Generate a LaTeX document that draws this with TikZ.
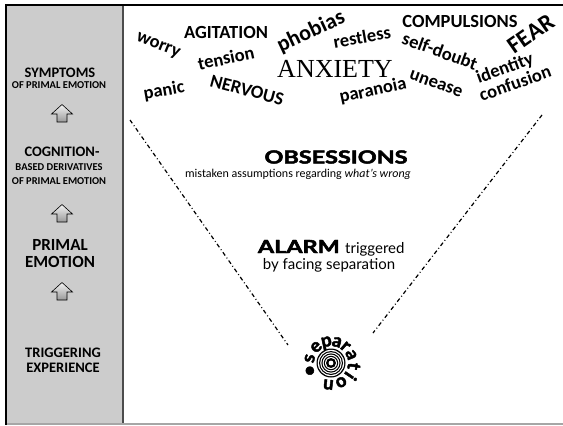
\documentclass[tikz,border=0pt]{standalone}
\usepackage{fontspec}
\setmainfont{Carlito}
\newfontfamily\gillfont{Lato}
\newfontfamily\gillheavy{Lato}[FakeBold=2.5]
\newfontfamily\romanfont{Liberation Serif}
\begin{document}
\begin{tikzpicture}[x=1pt,y=-1pt,
  word/.style={font=\fontsize{18.5}{18}\selectfont\bfseries, inner sep=0pt, anchor=center},
  paneltitle/.style={font=\fontsize{14.5}{15}\selectfont\bfseries, inner sep=0pt, align=center},
  panelsub/.style={font=\fontsize{10.5}{14}\selectfont\bfseries, inner sep=0pt, align=center},
  funnel/.style={line width=1.2pt, dash pattern=on 4pt off 2.6pt on 0.9pt off 2.6pt},
  ring/.style={fill=black},
  hole/.style={fill=white},
  sepletter/.style={font=\gillheavy\fontsize{18.5}{18}\selectfont\bfseries, inner sep=0pt, anchor=base},
  uparrow/.pic={
    \draw[line width=0.6pt, top color=gray!10, bottom color=gray!80]
      (0,-9.5) -- (10.5,0) -- (5,0) -- (5,8) -- (-5,8) -- (-5,0) -- (-10.5,0) -- cycle;
  }
]
\useasboundingbox (0,0) rectangle (563,426);
\fill[white] (0,0) rectangle (563,426);

% side panel and frame
\fill[gray!40] (6,5) rectangle (123,424);
\draw[gray!60!black, line width=1.8pt] (123,5) -- (123,424);
\draw[gray!70, line width=1.4pt] (6,424) -- (563,424);
\draw[black, line width=2pt] (6,424.5) -- (6,4.5) -- (563,4.5);

% side panel labels, bottom stage last
\node[paneltitle] (symp) at (60,73) {SYMPTOMS};
\node[panelsub] (symps) at (59,85) {OF PRIMAL EMOTION};
\pic at (62,114) {uparrow};
\node[paneltitle] (cogn) at (62,152) {COGNITION-};
\node[panelsub] (cogns) at (59,174) {BASED DERIVATIVES\\OF PRIMAL EMOTION};
\pic at (62,214) {uparrow};
\node[paneltitle, font=\fontsize{17}{17}\selectfont\bfseries] (prim) at (60,253.5) {PRIMAL\\EMOTION};
\pic at (62,292) {uparrow};
\node[paneltitle] (trig) at (63,360.5) {TRIGGERING\\EXPERIENCE};

% symptom words
\node[word, rotate=-22] (worry) at (158,46) {worry};
\node[word] (agit) at (226,32) {AGITATION};
\node[word, font=\fontsize{22}{22}\selectfont\bfseries, rotate=25] (phob) at (311,32) {phobias};
\node[word, rotate=12] (tens) at (226,58) {tension};
\node[word, rotate=10] (panic) at (164,91) {panic};
\node[word, rotate=-15] (nerv) at (247,90) {NERVOUS};
\node[word, font=\romanfont\fontsize{26}{26}\selectfont] (anx) at (335,69) {ANXIETY};
\node[word, rotate=10] (rest) at (362,37) {restless};
\node[word] (comp) at (460,21) {COMPULSIONS};
\node[word, rotate=-20] (self) at (440,51) {self-doubt};
\node[word, font=\fontsize{24}{24}\selectfont\bfseries, rotate=35] (fear) at (531,34) {FEAR};
\node[word, rotate=20] (ident) at (505,69) {identity};
\node[word, rotate=20] (conf) at (515,83) {confusion};
\node[word, rotate=-20] (unease) at (436,84) {unease};
\node[word, rotate=12] (para) at (373,91) {paranoia};

% funnel
\coordinate (ltop) at (130,120);
\coordinate (lbot) at (288,345);
\coordinate (rtop) at (542,115);
\coordinate (rbot) at (373,333);
\draw[funnel] (ltop) -- (lbot);
\draw[funnel] (rtop) -- (rbot);

% stage labels
\node[inner sep=0pt, xscale=1.3, font=\gillheavy\fontsize{18}{18}\selectfont\bfseries] (obs) at (336,157) {OBSESSIONS};
\node[inner sep=0pt, font=\fontsize{12}{12}\selectfont] (obss) at (298,174) {mistaken assumptions regarding \textit{what’s wrong}};
\node[inner sep=0pt, anchor=base east, xscale=1.3, font=\gillheavy\fontsize{18}{18}\selectfont\bfseries] (alarm) at (340,253) {ALARM};
\node[inner sep=0pt, anchor=base west, font=\gillfont\fontsize{15}{15}\selectfont] (trg) at (345,253) {triggered};
\node[inner sep=0pt, anchor=base, font=\gillfont\fontsize{15}{15}\selectfont] (bysep) at (329,269) {by facing separation};

% separation target
\coordinate (sep) at (331,363);
\fill[ring] (sep) circle (14.5);
\fill[hole] (sep) circle (13.2);
\fill[ring] (sep) circle (12);
\fill[hole] (sep) circle (10.8);
\fill[ring] (sep) circle (9.6);
\fill[hole] (sep) circle (8.4);
\fill[ring] (sep) circle (7.2);
\fill[hole] (sep) circle (6);
\fill[ring] (sep) circle (5);
\fill[hole] (sep) circle (2.4);
\foreach \ch/\a in {s/168, e/133, p/102, a/74, r/49, a/22, t/-8, i/-34, o/-62, n/-97, •/-160}{
  \node[sepletter, rotate=\a-90] at ({331+17*cos(\a)},{363-17*sin(\a)}) {\ch};
}
\end{tikzpicture}
\end{document}
